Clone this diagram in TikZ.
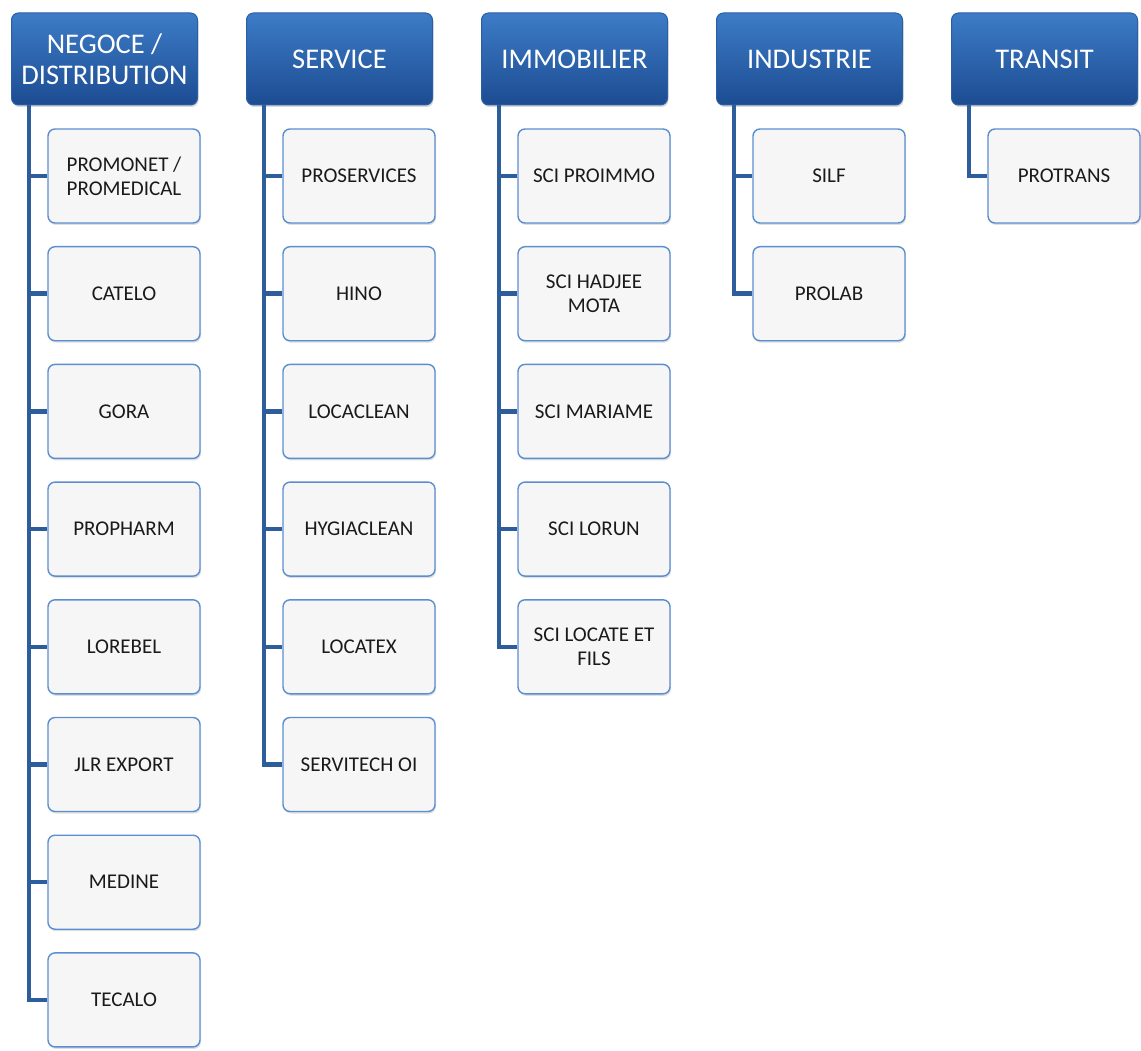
\documentclass[tikz,border=0pt]{standalone}
\usepackage{fontspec}
\setmainfont{Carlito}
\usetikzlibrary{shadows,calc}
\definecolor{hdtop}{HTML}{3D7CC7}
\definecolor{hdbot}{HTML}{1C4C92}
\definecolor{hdborder}{HTML}{2B5FA5}
\definecolor{chborder}{HTML}{5A8ED0}
\definecolor{chfill}{HTML}{F6F6F6}
\definecolor{lineclr}{HTML}{2D5E9B}
\definecolor{txt}{HTML}{1A1A1A}
\begin{document}
\begin{tikzpicture}[x=1pt,y=-1pt,
  header/.style={minimum width=186pt, minimum height=92pt, rounded corners=7pt,
    top color=hdtop, bottom color=hdbot, draw=hdborder, line width=1pt,
    text=white, font=\fontsize{28.5}{31}\selectfont, align=center, inner sep=0pt,
    drop shadow={opacity=0.3, shadow xshift=1pt, shadow yshift=-2pt}},
  child/.style={minimum width=152pt, minimum height=94pt, rounded corners=7pt,
    fill=chfill, draw=chborder, line width=1.4pt, text=txt,
    font=\fontsize{21}{24}\selectfont, align=center, inner sep=0pt,
    drop shadow={opacity=0.25, shadow xshift=1pt, shadow yshift=-2pt}},
  link/.style={draw=lineclr, line width=4.5pt}]
\useasboundingbox (0,0) rectangle (1141,1051);
% headers
\node[header] (h1) at (104.5,59) {NEGOCE /\\DISTRIBUTION};
\node[header] (h2) at (339.5,59) {SERVICE};
\node[header] (h3) at (574.5,59) {IMMOBILIER};
\node[header] (h4) at (809.5,59) {INDUSTRIE};
\node[header] (h5) at (1044.5,59) {TRANSIT};
\foreach \i in {1,...,5}{
  \coordinate (t\i) at ($(h\i.south west)+(18,0)$);
}
% children
\def\cy#1{176+117.7*(#1-1)}
\foreach \k/\t in {1/{PROMONET /\\PROMEDICAL},2/CATELO,3/GORA,4/PROPHARM,5/LOREBEL,6/JLR EXPORT,7/MEDINE,8/TECALO}{
  \node[child] (c1\k) at (124,{\cy{\k}}) {\t};
}
\foreach \k/\t in {1/PROSERVICES,2/HINO,3/LOCACLEAN,4/HYGIACLEAN,5/LOCATEX,6/SERVITECH OI}{
  \node[child] (c2\k) at (359,{\cy{\k}}) {\t};
}
\foreach \k/\t in {1/SCI PROIMMO,2/{SCI HADJEE\\MOTA},3/SCI MARIAME,4/SCI LORUN,5/{SCI LOCATE ET\\FILS}}{
  \node[child] (c3\k) at (594,{\cy{\k}}) {\t};
}
\foreach \k/\t in {1/SILF,2/PROLAB}{
  \node[child] (c4\k) at (829,{\cy{\k}}) {\t};
}
\node[child] (c51) at (1064,{\cy{1}}) {PROTRANS};
% connectors
\foreach \k in {1,...,8}{ \draw[link] (t1) |- (c1\k.west); }
\foreach \k in {1,...,6}{ \draw[link] (t2) |- (c2\k.west); }
\foreach \k in {1,...,5}{ \draw[link] (t3) |- (c3\k.west); }
\foreach \k in {1,...,2}{ \draw[link] (t4) |- (c4\k.west); }
\draw[link] (t5) |- (c51.west);
\end{tikzpicture}
\end{document}
